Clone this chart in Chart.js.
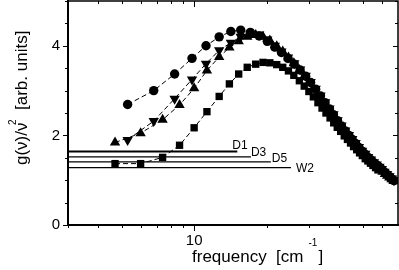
<!DOCTYPE html>
<html>
<head>
<meta charset="utf-8">
<script src="https://cdn.jsdelivr.net/npm/chart.js@4.4.1/dist/chart.umd.min.js"></script>
<style>body{margin:0;background:#fff}</style>
</head>
<body>
<canvas id="mycanvas" width="399" height="270"></canvas>
<script>
// frequency grid of the circle and down-triangle runs [cm-1]
var freqA = [5.3, 6.8, 8.3, 9.8, 11.2, 12.7, 14.2, 15.6, 17.1, 18.6, 20.1, 21.6, 23.0, 24.5, 26.0, 27.5, 29.0, 30.4, 31.9, 33.4,
             34.9, 36.4, 37.8, 39.3, 40.8, 42.3, 43.8, 45.2, 46.7, 48.2, 49.7, 51.2, 52.6, 54.1, 55.6, 57.1, 58.6, 60.0, 61.5, 63.0,
             64.5, 66.0, 67.4];
var circles = [2.69, 3.00, 3.37, 3.72, 4.00, 4.20, 4.32, 4.35, 4.30, 4.22, 4.10, 3.97, 3.85, 3.72, 3.59, 3.46, 3.32, 3.18, 3.03, 2.88,
               2.73, 2.59, 2.46, 2.33, 2.21, 2.10, 2.00, 1.91, 1.82, 1.73, 1.65, 1.58, 1.51, 1.45, 1.39, 1.34, 1.29, 1.24, 1.18, 1.13,
               1.08, 1.03, 0.99];
var triDown = [1.90, 2.32, 2.82, 3.25, 3.60, 3.90, 4.07, 4.20, 4.27, 4.25, 4.14, 4.00, 3.87, 3.74, 3.61, 3.47, 3.33, 3.19, 3.04, 2.89,
               2.74, 2.60, 2.47, 2.34, 2.22, 2.11, 2.01, 1.92, 1.83, 1.74, 1.66, 1.59, 1.52, 1.46, 1.40, 1.35, 1.30, 1.25, 1.19, 1.14,
               1.09, 1.04, 1.00];

// frequency grid of the up-triangle and square runs
var freqB = [4.7, 6.0, 7.4, 8.7, 10.0, 11.3, 12.7, 14.0, 15.3, 16.6, 18.0, 19.3, 20.6, 22.0, 23.3, 24.6, 25.9, 27.3, 28.6, 29.9,
             31.2, 32.6, 33.9, 35.2, 36.6, 37.9, 39.2, 40.5, 41.9, 43.2, 44.5, 45.8, 47.2, 48.5, 49.8, 51.2, 52.5, 53.8, 55.1, 56.5,
             57.8, 59.1, 60.4, 61.8, 63.1, 64.4, 65.8, 67.1];
var triUp = [1.84, 2.05, 2.35, 2.68, 3.05, 3.45, 3.75, 3.96, 4.10, 4.20, 4.24, 4.20, 4.12, 3.99, 3.87, 3.74, 3.61, 3.46, 3.32, 3.18,
             3.04, 2.90, 2.76, 2.64, 2.51, 2.40, 2.29, 2.19, 2.09, 2.00, 1.91, 1.83, 1.75, 1.68, 1.61, 1.54, 1.48, 1.43, 1.38, 1.33,
             1.28, 1.23, 1.19, 1.14, 1.10, 1.06, 1.02, 0.98];
var squares = [1.37, 1.37, 1.51, 1.78, 2.17, 2.53, 2.87, 3.15, 3.37, 3.52, 3.59, 3.63, 3.62, 3.58, 3.52, 3.44, 3.34, 3.22, 3.10, 2.98,
               2.86, 2.73, 2.61, 2.50, 2.39, 2.28, 2.18, 2.09, 1.99, 1.91, 1.83, 1.75, 1.68, 1.61, 1.55, 1.48, 1.43, 1.38, 1.33, 1.28,
               1.23];

// Debye levels
var refNames = ['D1', 'D3', 'D5', 'W2'];
var refLevels = [1.64, 1.52, 1.41, 1.28];
var refStart = 3;
var refEnds = [15.1, 17.2, 20.8, 25.2];

var xTicks = [3, 4, 5, 6, 7, 8, 9, 10, 20, 30, 40, 50, 60];
var xLabels = [10];
var yTicks = [0, 0.5, 1, 1.5, 2, 2.5, 3, 3.5, 4, 4.5, 5];
var yLabels = [0, 2, 4];

var family = "'Liberation Sans', Arial, Helvetica, sans-serif";
Chart.defaults.font.family = family;
Chart.defaults.color = '#000';

function pts(xs, ys) {
    return ys.map(function(y, i) { return {x: xs[i], y: y}; });
}

function series(data, style, radius, rotation) {
    return {
        data: data,
        showLine: true,
        borderColor: '#000',
        backgroundColor: '#000',
        borderWidth: 1,
        borderDash: [5, 3],
        pointStyle: style,
        pointRadius: radius,
        pointRotation: rotation || 0,
        pointBorderWidth: 0,
        pointBackgroundColor: '#000'
    };
}

var datasets = [
    series(pts(freqA, circles), 'circle', 4.7),
    series(pts(freqA, triDown), 'triangle', 6, 180),
    series(pts(freqB, triUp), 'triangle', 6),
    series(pts(freqB, squares), 'rect', 5.2)
];
for (var i = 0; i < refNames.length; i++) {
    datasets.push({
        data: [{x: refStart, y: refLevels[i]}, {x: refEnds[i], y: refLevels[i]}],
        showLine: true,
        borderColor: '#000',
        borderWidth: i === 0 ? 2 : 1.2,
        pointRadius: 0
    });
}

// label offsets relative to the end of each level line
var labelDx = [-5, 0, 1, 5];
var labelDy = [-2.5, -1, 0, 4];

var framePlugin = {
    id: 'frame',
    afterDraw: function(chart) {
        var ctx = chart.ctx, ca = chart.chartArea;
        var xs = chart.scales.x, ys = chart.scales.y;
        ctx.save();
        ctx.strokeStyle = '#000';
        ctx.fillStyle = '#000';

        // top and right edges of the box
        ctx.lineWidth = 1.5;
        ctx.beginPath();
        ctx.moveTo(ca.left, ca.top);
        ctx.lineTo(ca.right, ca.top);
        ctx.lineTo(ca.right, ca.bottom);
        ctx.stroke();

        // tick marks: out on bottom/left, in on top/right
        ctx.lineWidth = 1;
        ctx.beginPath();
        xTicks.forEach(function(v) {
            var px = Math.round(xs.getPixelForValue(v)) + 0.5;
            var len = xLabels.indexOf(v) >= 0 ? 6 : 3;
            ctx.moveTo(px, ca.bottom);
            ctx.lineTo(px, ca.bottom + len);
            ctx.moveTo(px, ca.top);
            ctx.lineTo(px, ca.top + len);
        });
        yTicks.forEach(function(v) {
            var py = Math.round(ys.getPixelForValue(v)) + 0.5;
            var len = yLabels.indexOf(v) >= 0 ? 5 : 3;
            ctx.moveTo(ca.left - len, py);
            ctx.lineTo(ca.left, py);
            ctx.moveTo(ca.right - len, py);
            ctx.lineTo(ca.right, py);
        });
        ctx.stroke();

        // level names
        ctx.font = '12px ' + family;
        ctx.textAlign = 'left';
        ctx.textBaseline = 'alphabetic';
        refNames.forEach(function(name, i) {
            ctx.fillText(name, xs.getPixelForValue(refEnds[i]) + labelDx[i], ys.getPixelForValue(refLevels[i]) + labelDy[i]);
        });

        // x title with superscript
        var tx = ca.left + 124, ty = ca.bottom + 37;
        ctx.font = '17px ' + family;
        var main = 'frequency  [cm';
        ctx.fillText(main, tx, ty);
        var w = ctx.measureText(main).width;
        ctx.fillText(']', tx + w + 15, ty);
        ctx.font = '10px ' + family;
        ctx.fillText('-1', tx + w + 5, ty - 16);

        // y title, rotated, with superscript
        ctx.translate(27, ca.top + 164);
        ctx.rotate(-Math.PI / 2);
        ctx.font = '17px ' + family;
        ctx.fillText('g(\u03bd)/\u03bd', 0, 0);
        ctx.fillText('[arb. units]', 55, 0);
        ctx.font = '10px ' + family;
        ctx.fillText('2', 40, -11);
        ctx.restore();
    }
};

var ctx = document.getElementById('mycanvas');
var chart = new Chart(ctx, {
    type: 'scatter',
    data: {datasets: datasets},
    plugins: [framePlugin],
    options: {
        responsive: false,
        animation: false,
        layout: {autoPadding: false, padding: {top: 1, right: 1, left: 0, bottom: 0}},
        plugins: {legend: {display: false}, tooltip: {enabled: false}},
        scales: {
            x: {
                type: 'logarithmic',
                min: 3,
                max: 70,
                afterBuildTicks: function(s) { s.ticks = xTicks.map(function(v) { return {value: v}; }); },
                afterFit: function(s) { s.height = 45; s.paddingLeft = 0; s.paddingRight = 0; },
                ticks: {
                    autoSkip: false,
                    maxRotation: 0,
                    padding: 7,
                    font: {size: 15},
                    callback: function(v) { return xLabels.indexOf(v) >= 0 ? String(v) : ''; }
                },
                grid: {display: false, drawTicks: false},
                border: {display: true, color: '#000', width: 2}
            },
            y: {
                min: 0,
                max: 5,
                afterBuildTicks: function(s) { s.ticks = yTicks.map(function(v) { return {value: v}; }); },
                afterFit: function(s) { s.width = 68; s.paddingTop = 0; s.paddingBottom = 0; },
                ticks: {
                    autoSkip: false,
                    padding: 8,
                    font: {size: 15},
                    callback: function(v) { return yLabels.indexOf(v) >= 0 ? String(v) : ''; }
                },
                grid: {display: false, drawTicks: false},
                border: {display: true, color: '#000', width: 2}
            }
        }
    }
});
</script>
</body>
</html>
